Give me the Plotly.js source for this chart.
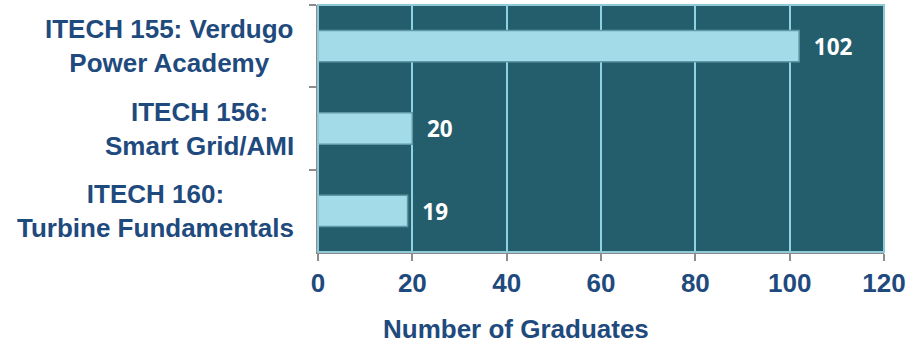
<!DOCTYPE html>
<html><head><meta charset="utf-8">
<script src="https://cdn.plot.ly/plotly-3.0.1.min.js"></script>
<style>html,body{margin:0;padding:0;background:#fff}</style>
</head><body>
<div id="chart" style="width:906px;height:346px"></div>
<script>
const categories = ["ITECH 155: Verdugo<br>Power Academy", "ITECH 156:<br>Smart Grid/AMI", "ITECH 160:<br>Turbine Fundamentals"];
const graduates = [102, 20, 19];
const xTicks = [0, 20, 40, 60, 80, 100, 120];
const xTitle = "Number of Graduates";

const labelFont = {family: "Liberation Sans, Arial, sans-serif", size: 26, color: "#1f4a7e", weight: "bold"};

const data = [{
  type: "bar",
  orientation: "h",
  y: categories,
  x: graduates,
  width: 0.38,
  marker: {color: "#a3dbe9", line: {color: "#5f97a5", width: 1.5}},
  text: graduates.map(v => "  " + v),
  textposition: "outside",
  textfont: {family: "Open Sans, sans-serif", size: 23, color: "#ffffff", weight: "bold"},
  cliponaxis: false,
  hoverinfo: "skip"
}];

const layout = {
  width: 906, height: 346,
  margin: {l: 318, r: 22, t: 5, b: 94},
  paper_bgcolor: "#ffffff",
  plot_bgcolor: "#245e6c",
  showlegend: false,
  xaxis: {
    range: [0, 120], tickvals: xTicks, ticktext: xTicks.map(String),
    showgrid: true, gridcolor: "#8fd3e3", gridwidth: 2,
    zeroline: false,
    showline: true, linecolor: "#8c8c8c", linewidth: 2,
    ticks: "outside", ticklen: 7, tickcolor: "#8c8c8c", tickwidth: 2,
    tickfont: labelFont,
    ticklabeloverflow: "allow"
  },
  yaxis: {
    autorange: "reversed",
    showticklabels: false,
    showgrid: false, zeroline: false,
    showline: true, linecolor: "#8c8c8c", linewidth: 2,
    ticks: "outside", ticklen: 7, tickcolor: "#8c8c8c", tickwidth: 2,
    tickson: "boundaries"
  },
  shapes: [{
    type: "rect", xref: "paper", yref: "paper", x0: 0, x1: 1, y0: 0, y1: 1,
    line: {color: "#8fc9d6", width: 2}, fillcolor: "rgba(0,0,0,0)", layer: "above"
  }],
  annotations: categories.map(c => ({
    xref: "paper", yref: "paper", x: 0, y: 0, xanchor: "right", xshift: -22,
    text: c, showarrow: false, align: "center", font: labelFont
  })).map((a, i) => Object.assign(a, {yref: "y", y: categories[i]})).concat([{
    xref: "paper", yref: "paper", x: 0.35, y: -0.31, xanchor: "center", yanchor: "middle",
    text: xTitle, showarrow: false, font: labelFont
  }])
};

Plotly.newPlot("chart", data, layout, {displayModeBar: false, staticPlot: true});
</script>
</body></html>
